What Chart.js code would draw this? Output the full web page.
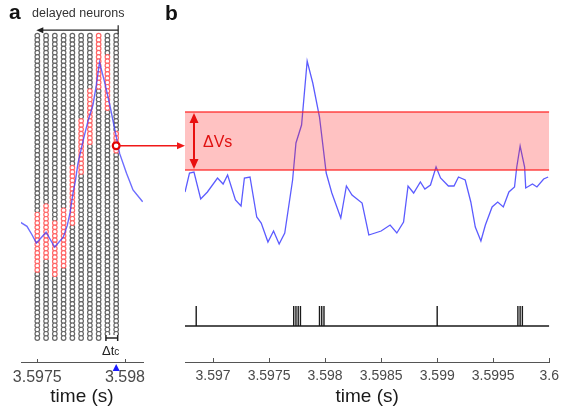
<!DOCTYPE html>
<html><head><meta charset="utf-8">
<script src="https://cdn.jsdelivr.net/npm/chart.js@4.4.1/dist/chart.umd.min.js"></script>
<style>
html,body{margin:0;padding:0;background:#fff;}
#wrap{position:relative;width:565px;height:414px;overflow:hidden;font-family:"Liberation Sans",Arial,sans-serif;background:#fff;}
canvas{position:absolute;left:0;top:0;}
.lbl{position:absolute;white-space:nowrap;line-height:1;}
</style></head><body>
<div id="wrap">
<canvas id="ca" width="565" height="414"></canvas>
<canvas id="cb" width="565" height="414"></canvas>
<div class="lbl" style="left:9px;top:1px;font-weight:bold;font-size:21px;color:#111">a</div>
<div class="lbl" style="left:165px;top:2px;font-weight:bold;font-size:21px;color:#111">b</div>
<div class="lbl" style="left:32px;top:7px;font-size:12.5px;color:#333">delayed neurons</div>
<div class="lbl" style="left:102px;top:344px;font-size:13px;color:#222">Δt<span style="font-size:10px">c</span></div>
<div class="lbl" style="left:203px;top:134px;font-size:16px;color:#e01010">ΔVs</div>
</div>
<script>
// ---------- data ----------
// panel a: membrane trace (zoomed)
const traceATime = [3.597405,3.597441,3.597468,3.597495,3.59755,3.597599,3.597648,3.597671,3.597687,3.597704,3.597718,3.597732,3.597761,3.597789,3.597818,3.597837,3.597855,3.597885,3.597913,3.597953,3.59797,3.598009,3.598046,3.598101];
const traceAV    = [-57.4,-57.8,-58.6,-59.5,-58.4,-59.9,-58.9,-57.7,-56.4,-54.4,-53.1,-51.4,-49.1,-47.1,-45.4,-43.4,-41.1,-43.2,-45.4,-48.9,-50.4,-52.4,-54.1,-55.3];
// panel a: delayed neurons (columns = delay times), rows, and above-threshold rows
const columnTimes = [3.5975,3.59755,3.5976,3.59765,3.5977,3.59775,3.5978,3.59785,3.5979,3.59795];
const nRows = 72;
const redStartRow = [42,40,44,41,31,20,13,0,5,23];
const redEndRow   = [55,52,56,54,44,32,25,12,17,27];
const markerTime = 3.59795;
const markerV = -49.6;
const ticksA = [3.5975, 3.598];
const tickLabelsA = ['3.5975','3.598'];

// panel b: membrane trace
const traceBTime = [3.59675,3.59679,3.59683,3.59689,3.59695,3.59704,3.59709,3.59713,3.5972,3.59725,3.59728,3.59733,3.59739,3.59743,3.59749,3.59754,3.59759,3.59764,3.59771,3.59774,3.59779,3.59784,3.59789,3.59795,3.59801,3.59806,3.59814,3.59819,3.59824,3.59833,3.59839,3.5985,3.59858,3.59864,3.5987,3.59874,3.59879,3.59885,3.59889,3.59894,3.59899,3.59903,3.5991,3.59915,3.59919,3.59925,3.5993,3.59934,3.59939,3.59943,3.59949,3.59954,3.59959,3.59964,3.59969,3.59971,3.59974,3.59978,3.59979,3.59985,3.59989,3.59995,3.59999];
const traceBV    = [-54.2,-52.3,-52.2,-54.9,-54.2,-52.8,-53.4,-52.5,-55.0,-55.6,-52.8,-52.7,-56.7,-57.3,-59.2,-58.1,-59.4,-58.3,-53.0,-49.3,-47.5,-41.1,-43.3,-46.7,-52.3,-54.3,-56.8,-53.6,-54.5,-55.3,-58.5,-58.1,-57.5,-58.3,-57.2,-53.6,-54.3,-53.2,-53.9,-53.5,-51.7,-52.8,-53.6,-53.6,-52.7,-53.0,-55.2,-57.7,-59.1,-57.5,-55.7,-55.2,-55.7,-54.2,-53.7,-51.7,-49.6,-51.7,-53.8,-53.4,-53.7,-52.9,-52.7];
const thresholdBand = [-52.0, -46.2];
const spikeTimes = [3.59685,3.59772,3.59774,3.59776,3.59778,3.59795,3.59797,3.59799,3.599,3.59972,3.59974,3.59976];
const ticksB = [3.597,3.5975,3.598,3.5985,3.599,3.5995,3.6];
const tickLabelsB = ['3.597','3.5975','3.598','3.5985','3.599','3.5995','3.6'];

// axis ranges
const tRangeA = [3.597407, 3.598103];
const vRangeA = [-71.6, -35.4];
const rowRange = [-6.92, 76.62];
const tRangeB = [3.59675, 3.6];
const vRangeB = [-71.2, -35.0];
const rasterRange = [-1.8, 16.3];

// ---------- build ----------
Chart.defaults.font.family = '"Liberation Sans", Arial, sans-serif';
const toXY = (ts, vs) => ts.map((t, i) => ({x: t, y: vs[i]}));

const grayPts = [], redPts = [];
columnTimes.forEach((t, c) => {
  for (let r = 0; r < nRows; r++) {
    (r >= redStartRow[c] && r <= redEndRow[c] ? redPts : grayPts).push({x: t, y: r});
  }
});

function xAxis(range, ticks, labels, fontSize) {
  return {
    type: 'linear', position: 'bottom', min: range[0], max: range[1],
    afterBuildTicks: s => { s.ticks = ticks.map(v => ({value: v})); },
    afterFit: s => { s.height = 52; },
    ticks: {callback: (v, i) => labels[i], font: {size: fontSize}, color: '#4a4a4a', padding: 6, autoSkip: false, maxRotation: 0},
    grid: {display: false, drawTicks: false},
    border: {display: true, color: '#555', width: 1},
    title: {display: true, text: 'time (s)', font: {size: 19}, color: '#1a1a1a', padding: {top: 0, bottom: 6}}
  };
}

function inwardTicks(chart, ticks, len) {
  const {ctx, chartArea, scales: {x}} = chart;
  ctx.strokeStyle = '#555'; ctx.lineWidth = 1;
  ticks.forEach(v => {
    const px = Math.round(x.getPixelForValue(v)) + 0.5;
    ctx.beginPath(); ctx.moveTo(px, chartArea.bottom); ctx.lineTo(px, chartArea.bottom - len); ctx.stroke();
  });
}

const annotA = {
  id: 'annotA',
  afterDraw(chart) {
    const {ctx, chartArea, scales: {x, yRow}} = chart;
    ctx.save();
    inwardTicks(chart, ticksA, 3);
    // "delayed neurons" arrow
    const x0 = x.getPixelForValue(columnTimes[0]);
    const x9 = x.getPixelForValue(columnTimes[columnTimes.length - 1]) + 2;
    const ya = yRow.getPixelForValue(-1.3);
    ctx.strokeStyle = '#222'; ctx.fillStyle = '#222'; ctx.lineWidth = 1.2;
    ctx.beginPath(); ctx.moveTo(x9, ya); ctx.lineTo(x0 + 4, ya); ctx.stroke();
    ctx.beginPath(); ctx.moveTo(x0 - 1, ya); ctx.lineTo(x0 + 6, ya - 3); ctx.lineTo(x0 + 6, ya + 3); ctx.closePath(); ctx.fill();
    ctx.beginPath(); ctx.moveTo(x9, ya - 5); ctx.lineTo(x9, ya + 4); ctx.stroke();
    // Δtc bracket
    const xb0 = x.getPixelForValue(columnTimes[8]) - 1.5;
    const xb1 = x.getPixelForValue(columnTimes[9]) + 1.5;
    const yb = yRow.getPixelForValue(nRows - 1);
    ctx.fillStyle = '#fff'; ctx.fillRect(xb0 - 2, yb - 3, xb1 - xb0 + 4, 7);
    ctx.strokeStyle = '#222'; ctx.lineWidth = 1.5;
    ctx.beginPath(); ctx.moveTo(xb0, yb); ctx.lineTo(xb1, yb);
    ctx.moveTo(xb0, yb - 3); ctx.lineTo(xb0, yb + 3);
    ctx.moveTo(xb1, yb - 3); ctx.lineTo(xb1, yb + 3); ctx.stroke();
    // blue marker under axis
    const tx = x.getPixelForValue(markerTime);
    ctx.fillStyle = '#1a1aff';
    ctx.beginPath(); ctx.moveTo(tx, chartArea.bottom + 2); ctx.lineTo(tx - 3.5, chartArea.bottom + 9); ctx.lineTo(tx + 3.5, chartArea.bottom + 9); ctx.closePath(); ctx.fill();
    ctx.restore();
  }
};

const chartA = new Chart(document.getElementById('ca'), {
  type: 'scatter',
  data: {datasets: [
    {data: [{x: markerTime, y: markerV}], yAxisID: 'y', pointRadius: 3.4, borderWidth: 2.2, borderColor: '#e00000', backgroundColor: '#fff', order: 0},
    {data: toXY(traceATime, traceAV), yAxisID: 'y', showLine: true, pointRadius: 0, borderColor: 'rgba(60,60,255,0.75)', borderWidth: 1.4, order: 1},
    {data: redPts, yAxisID: 'yRow', pointRadius: 2.3, borderWidth: 1.2, borderColor: '#ff6666', backgroundColor: '#fff', order: 2},
    {data: grayPts, yAxisID: 'yRow', pointRadius: 2.3, borderWidth: 1.2, borderColor: '#666', backgroundColor: '#fff', order: 3}
  ]},
  options: {
    responsive: false, animation: false, events: [],
    layout: {padding: {left: 21, right: 422, top: 0, bottom: 0}},
    plugins: {legend: {display: false}, tooltip: {enabled: false}},
    scales: {
      x: xAxis(tRangeA, ticksA, tickLabelsA, 16),
      y: {type: 'linear', display: false, min: vRangeA[0], max: vRangeA[1]},
      yRow: {type: 'linear', display: false, reverse: true, min: rowRange[0], max: rowRange[1]}
    }
  },
  plugins: [annotA]
});

const rasterPts = [{x: tRangeB[0], y: 0}];
spikeTimes.forEach(t => rasterPts.push({x: t, y: 0}, {x: t, y: 1}, {x: t, y: 0}));
rasterPts.push({x: tRangeB[1], y: 0});

const annotB = {
  id: 'annotB',
  afterDraw(chart) {
    const {ctx, chartArea, scales: {y}} = chart;
    ctx.save();
    inwardTicks(chart, ticksB, 4);
    // ΔVs double arrow
    const xa = chartArea.left + 9;
    const yt = y.getPixelForValue(thresholdBand[1]), yb = y.getPixelForValue(thresholdBand[0]);
    ctx.strokeStyle = '#e81010'; ctx.fillStyle = '#e81010'; ctx.lineWidth = 2;
    ctx.beginPath(); ctx.moveTo(xa, yt + 7); ctx.lineTo(xa, yb - 7); ctx.stroke();
    ctx.beginPath(); ctx.moveTo(xa, yt + 1); ctx.lineTo(xa - 4.5, yt + 11); ctx.lineTo(xa + 4.5, yt + 11); ctx.closePath(); ctx.fill();
    ctx.beginPath(); ctx.moveTo(xa, yb - 1); ctx.lineTo(xa - 4.5, yb - 11); ctx.lineTo(xa + 4.5, yb - 11); ctx.closePath(); ctx.fill();
    // arrow from panel a marker to panel b
    const mx = chartA.scales.x.getPixelForValue(markerTime) + 3;
    const my = chartA.scales.y.getPixelForValue(markerV);
    const ex = chartArea.left;
    ctx.strokeStyle = '#f01818'; ctx.fillStyle = '#f01818'; ctx.lineWidth = 1.4;
    ctx.beginPath(); ctx.moveTo(mx, my); ctx.lineTo(ex - 5, my); ctx.stroke();
    ctx.beginPath(); ctx.moveTo(ex, my); ctx.lineTo(ex - 8, my - 3.5); ctx.lineTo(ex - 8, my + 3.5); ctx.closePath(); ctx.fill();
    ctx.restore();
  }
};

new Chart(document.getElementById('cb'), {
  type: 'scatter',
  data: {datasets: [
    {data: [{x: tRangeB[0], y: thresholdBand[1]}, {x: tRangeB[1], y: thresholdBand[1]}], yAxisID: 'y', showLine: true, pointRadius: 0, borderColor: 'rgba(255,40,40,0.85)', borderWidth: 1.5, fill: '+1', backgroundColor: 'rgba(255,30,30,0.27)', order: 0},
    {data: [{x: tRangeB[0], y: thresholdBand[0]}, {x: tRangeB[1], y: thresholdBand[0]}], yAxisID: 'y', showLine: true, pointRadius: 0, borderColor: 'rgba(255,40,40,0.85)', borderWidth: 1.5, fill: false, order: 1},
    {data: toXY(traceBTime, traceBV), yAxisID: 'y', showLine: true, pointRadius: 0, borderColor: 'rgba(50,50,255,0.8)', borderWidth: 1.3, order: 2},
    {data: rasterPts, yAxisID: 'yR', showLine: true, pointRadius: 0, borderColor: '#1a1a1a', borderWidth: 1.4, order: 3}
  ]},
  options: {
    responsive: false, animation: false, events: [],
    layout: {padding: {left: 185, right: 13, top: 0, bottom: 0}},
    plugins: {legend: {display: false}, tooltip: {enabled: false}},
    scales: {
      x: xAxis(tRangeB, ticksB, tickLabelsB, 14),
      y: {type: 'linear', display: false, min: vRangeB[0], max: vRangeB[1]},
      yR: {type: 'linear', display: false, min: rasterRange[0], max: rasterRange[1]}
    }
  },
  plugins: [annotB]
});
</script>
</body></html>
